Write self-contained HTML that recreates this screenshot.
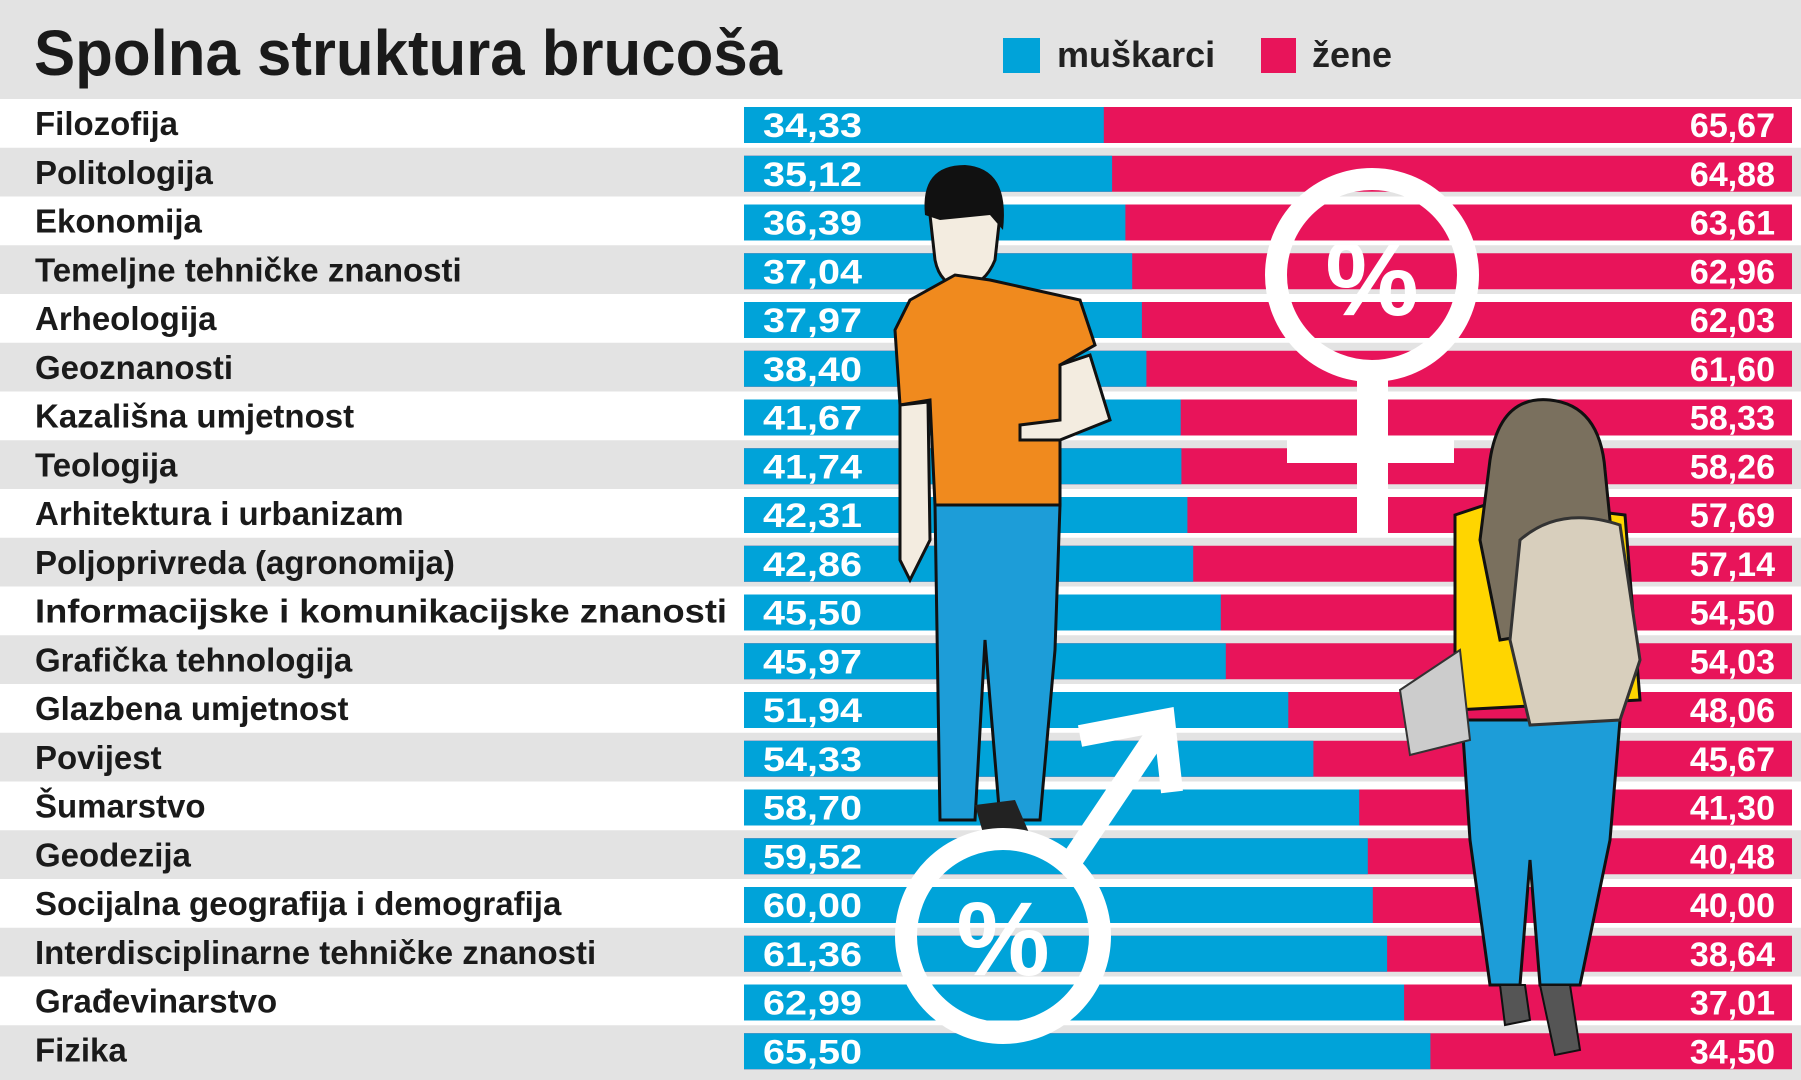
<!DOCTYPE html>
<html><head><meta charset="utf-8"><style>
html,body{margin:0;padding:0;background:#fff}
svg{display:block}
text{font-family:"Liberation Sans",sans-serif;font-weight:bold}
.l{font-size:33px;fill:#1a1a1a}
.v{font-size:34px;fill:#fff}
</style></head><body>
<svg width="1801" height="1080" viewBox="0 0 1801 1080" xmlns="http://www.w3.org/2000/svg">
<rect width="1801" height="1080" fill="#fff"/>
<rect width="1801" height="99" fill="#e3e3e3"/>
<text x="34" y="75" font-size="64" fill="#1a1a1a" textLength="748" lengthAdjust="spacingAndGlyphs">Spolna struktura brucoša</text>
<rect x="1003" y="38" width="37" height="35" fill="#00a3d9"/>
<text x="1057" y="67" font-size="36" fill="#222">muškarci</text>
<rect x="1261" y="38" width="35" height="35" fill="#e8145a"/>
<text x="1312" y="67" font-size="36" fill="#222">žene</text>

<rect x="0" y="147.75" width="1801" height="48.75" fill="#e3e3e3"/>
<rect x="0" y="245.25" width="1801" height="48.75" fill="#e3e3e3"/>
<rect x="0" y="342.75" width="1801" height="48.75" fill="#e3e3e3"/>
<rect x="0" y="440.25" width="1801" height="48.75" fill="#e3e3e3"/>
<rect x="0" y="537.75" width="1801" height="48.75" fill="#e3e3e3"/>
<rect x="0" y="635.25" width="1801" height="48.75" fill="#e3e3e3"/>
<rect x="0" y="732.75" width="1801" height="48.75" fill="#e3e3e3"/>
<rect x="0" y="830.25" width="1801" height="48.75" fill="#e3e3e3"/>
<rect x="0" y="927.75" width="1801" height="48.75" fill="#e3e3e3"/>
<rect x="0" y="1025.25" width="1801" height="54.75" fill="#e3e3e3"/>

<g transform="translate(0,99)"><rect x="744" y="8" width="1048" height="36" fill="#e8145a"/><rect x="744" y="8" width="359.8" height="36" fill="#00a3d9"/><text class="l" x="35" y="36">Filozofija</text><text class="v" x="763" y="38" textLength="99" lengthAdjust="spacingAndGlyphs">34,33</text><text class="v" x="1775" y="38" text-anchor="end">65,67</text></g>
<g transform="translate(0,147.75)"><rect x="744" y="8" width="1048" height="36" fill="#e8145a"/><rect x="744" y="8" width="368.1" height="36" fill="#00a3d9"/><text class="l" x="35" y="36">Politologija</text><text class="v" x="763" y="38" textLength="99" lengthAdjust="spacingAndGlyphs">35,12</text><text class="v" x="1775" y="38" text-anchor="end">64,88</text></g>
<g transform="translate(0,196.5)"><rect x="744" y="8" width="1048" height="36" fill="#e8145a"/><rect x="744" y="8" width="381.4" height="36" fill="#00a3d9"/><text class="l" x="35" y="36">Ekonomija</text><text class="v" x="763" y="38" textLength="99" lengthAdjust="spacingAndGlyphs">36,39</text><text class="v" x="1775" y="38" text-anchor="end">63,61</text></g>
<g transform="translate(0,245.25)"><rect x="744" y="8" width="1048" height="36" fill="#e8145a"/><rect x="744" y="8" width="388.2" height="36" fill="#00a3d9"/><text class="l" x="35" y="36">Temeljne tehničke znanosti</text><text class="v" x="763" y="38" textLength="99" lengthAdjust="spacingAndGlyphs">37,04</text><text class="v" x="1775" y="38" text-anchor="end">62,96</text></g>
<g transform="translate(0,294)"><rect x="744" y="8" width="1048" height="36" fill="#e8145a"/><rect x="744" y="8" width="397.9" height="36" fill="#00a3d9"/><text class="l" x="35" y="36">Arheologija</text><text class="v" x="763" y="38" textLength="99" lengthAdjust="spacingAndGlyphs">37,97</text><text class="v" x="1775" y="38" text-anchor="end">62,03</text></g>
<g transform="translate(0,342.75)"><rect x="744" y="8" width="1048" height="36" fill="#e8145a"/><rect x="744" y="8" width="402.4" height="36" fill="#00a3d9"/><text class="l" x="35" y="36">Geoznanosti</text><text class="v" x="763" y="38" textLength="99" lengthAdjust="spacingAndGlyphs">38,40</text><text class="v" x="1775" y="38" text-anchor="end">61,60</text></g>
<g transform="translate(0,391.5)"><rect x="744" y="8" width="1048" height="36" fill="#e8145a"/><rect x="744" y="8" width="436.7" height="36" fill="#00a3d9"/><text class="l" x="35" y="36">Kazališna umjetnost</text><text class="v" x="763" y="38" textLength="99" lengthAdjust="spacingAndGlyphs">41,67</text><text class="v" x="1775" y="38" text-anchor="end">58,33</text></g>
<g transform="translate(0,440.25)"><rect x="744" y="8" width="1048" height="36" fill="#e8145a"/><rect x="744" y="8" width="437.4" height="36" fill="#00a3d9"/><text class="l" x="35" y="36">Teologija</text><text class="v" x="763" y="38" textLength="99" lengthAdjust="spacingAndGlyphs">41,74</text><text class="v" x="1775" y="38" text-anchor="end">58,26</text></g>
<g transform="translate(0,489)"><rect x="744" y="8" width="1048" height="36" fill="#e8145a"/><rect x="744" y="8" width="443.4" height="36" fill="#00a3d9"/><text class="l" x="35" y="36">Arhitektura i urbanizam</text><text class="v" x="763" y="38" textLength="99" lengthAdjust="spacingAndGlyphs">42,31</text><text class="v" x="1775" y="38" text-anchor="end">57,69</text></g>
<g transform="translate(0,537.75)"><rect x="744" y="8" width="1048" height="36" fill="#e8145a"/><rect x="744" y="8" width="449.2" height="36" fill="#00a3d9"/><text class="l" x="35" y="36">Poljoprivreda (agronomija)</text><text class="v" x="763" y="38" textLength="99" lengthAdjust="spacingAndGlyphs">42,86</text><text class="v" x="1775" y="38" text-anchor="end">57,14</text></g>
<g transform="translate(0,586.5)"><rect x="744" y="8" width="1048" height="36" fill="#e8145a"/><rect x="744" y="8" width="476.8" height="36" fill="#00a3d9"/><text class="l" x="35" y="36" textLength="692" lengthAdjust="spacingAndGlyphs">Informacijske i komunikacijske znanosti</text><text class="v" x="763" y="38" textLength="99" lengthAdjust="spacingAndGlyphs">45,50</text><text class="v" x="1775" y="38" text-anchor="end">54,50</text></g>
<g transform="translate(0,635.25)"><rect x="744" y="8" width="1048" height="36" fill="#e8145a"/><rect x="744" y="8" width="481.8" height="36" fill="#00a3d9"/><text class="l" x="35" y="36">Grafička tehnologija</text><text class="v" x="763" y="38" textLength="99" lengthAdjust="spacingAndGlyphs">45,97</text><text class="v" x="1775" y="38" text-anchor="end">54,03</text></g>
<g transform="translate(0,684)"><rect x="744" y="8" width="1048" height="36" fill="#e8145a"/><rect x="744" y="8" width="544.3" height="36" fill="#00a3d9"/><text class="l" x="35" y="36">Glazbena umjetnost</text><text class="v" x="763" y="38" textLength="99" lengthAdjust="spacingAndGlyphs">51,94</text><text class="v" x="1775" y="38" text-anchor="end">48,06</text></g>
<g transform="translate(0,732.75)"><rect x="744" y="8" width="1048" height="36" fill="#e8145a"/><rect x="744" y="8" width="569.4" height="36" fill="#00a3d9"/><text class="l" x="35" y="36">Povijest</text><text class="v" x="763" y="38" textLength="99" lengthAdjust="spacingAndGlyphs">54,33</text><text class="v" x="1775" y="38" text-anchor="end">45,67</text></g>
<g transform="translate(0,781.5)"><rect x="744" y="8" width="1048" height="36" fill="#e8145a"/><rect x="744" y="8" width="615.2" height="36" fill="#00a3d9"/><text class="l" x="35" y="36">Šumarstvo</text><text class="v" x="763" y="38" textLength="99" lengthAdjust="spacingAndGlyphs">58,70</text><text class="v" x="1775" y="38" text-anchor="end">41,30</text></g>
<g transform="translate(0,830.25)"><rect x="744" y="8" width="1048" height="36" fill="#e8145a"/><rect x="744" y="8" width="623.8" height="36" fill="#00a3d9"/><text class="l" x="35" y="36">Geodezija</text><text class="v" x="763" y="38" textLength="99" lengthAdjust="spacingAndGlyphs">59,52</text><text class="v" x="1775" y="38" text-anchor="end">40,48</text></g>
<g transform="translate(0,879)"><rect x="744" y="8" width="1048" height="36" fill="#e8145a"/><rect x="744" y="8" width="628.8" height="36" fill="#00a3d9"/><text class="l" x="35" y="36">Socijalna geografija i demografija</text><text class="v" x="763" y="38" textLength="99" lengthAdjust="spacingAndGlyphs">60,00</text><text class="v" x="1775" y="38" text-anchor="end">40,00</text></g>
<g transform="translate(0,927.75)"><rect x="744" y="8" width="1048" height="36" fill="#e8145a"/><rect x="744" y="8" width="643.1" height="36" fill="#00a3d9"/><text class="l" x="35" y="36">Interdisciplinarne tehničke znanosti</text><text class="v" x="763" y="38" textLength="99" lengthAdjust="spacingAndGlyphs">61,36</text><text class="v" x="1775" y="38" text-anchor="end">38,64</text></g>
<g transform="translate(0,976.5)"><rect x="744" y="8" width="1048" height="36" fill="#e8145a"/><rect x="744" y="8" width="660.1" height="36" fill="#00a3d9"/><text class="l" x="35" y="36">Građevinarstvo</text><text class="v" x="763" y="38" textLength="99" lengthAdjust="spacingAndGlyphs">62,99</text><text class="v" x="1775" y="38" text-anchor="end">37,01</text></g>
<g transform="translate(0,1025.25)"><rect x="744" y="8" width="1048" height="36" fill="#e8145a"/><rect x="744" y="8" width="686.4" height="36" fill="#00a3d9"/><text class="l" x="35" y="36">Fizika</text><text class="v" x="763" y="38" textLength="99" lengthAdjust="spacingAndGlyphs">65,50</text><text class="v" x="1775" y="38" text-anchor="end">34,50</text></g>

<!-- male figure -->
<path d="M930 215 Q925 170 965 168 Q1005 170 1000 215 L995 260 Q985 285 962 288 Q940 285 935 260 Z" fill="#f3ece0" stroke="#111" stroke-width="3"/>
<path d="M925 215 Q920 165 965 165 Q1010 168 1003 230 L990 215 L940 220 Z" fill="#111"/>
<path d="M910 300 L955 275 L990 280 L1080 300 L1095 345 L1060 365 L1060 505 L935 505 L930 400 L900 405 L895 330 Z" fill="#f08a1e" stroke="#111" stroke-width="3"/>
<path d="M1060 365 L1090 355 L1110 420 L1060 440 L1020 440 L1020 425 L1060 420 Z" fill="#f3ece0" stroke="#111" stroke-width="3"/>
<path d="M900 405 L928 402 L930 540 L910 580 L900 560 Z" fill="#f3ece0" stroke="#111" stroke-width="3"/>
<path d="M935 505 L1060 505 L1055 650 L1040 820 L1000 820 L985 640 L975 820 L940 820 Z" fill="#1d9dd8" stroke="#111" stroke-width="3"/>
<path d="M975 805 L1015 800 L1030 835 L985 840 Z" fill="#222"/>
<!-- female symbol -->
<circle cx="1372" cy="275" r="96" fill="none" stroke="#fff" stroke-width="22"/>
<text x="1372" y="315" font-size="105" fill="#fff" text-anchor="middle">%</text>
<rect x="1357" y="380" width="31" height="157" fill="#fff"/>
<rect x="1287" y="438" width="167" height="25" fill="#fff"/>
<!-- male symbol -->
<circle cx="1003" cy="936" r="97" fill="none" stroke="#fff" stroke-width="22"/>
<text x="1003" y="975" font-size="105" fill="#fff" text-anchor="middle">%</text>
<line x1="1068" y1="866" x2="1158" y2="732" stroke="#fff" stroke-width="22"/>
<polyline points="1080,736 1164,720 1172,792" fill="none" stroke="#fff" stroke-width="22" stroke-linejoin="miter"/>
<!-- female figure -->
<path d="M1455 515 L1500 500 L1625 515 L1640 700 L1455 710 Z" fill="#ffd500" stroke="#111" stroke-width="3"/>
<path d="M1462 720 L1620 720 L1610 840 L1580 985 L1540 985 L1530 860 L1520 985 L1490 985 L1470 840 Z" fill="#1d9dd8" stroke="#111" stroke-width="3"/>
<path d="M1490 460 Q1500 395 1550 400 Q1600 405 1605 470 L1620 620 L1500 640 L1480 540 Z" fill="#7a705e" stroke="#111" stroke-width="3"/>
<path d="M1520 540 Q1560 505 1620 525 L1640 660 L1620 720 L1530 725 L1510 640 Z" fill="#d8cfbd" stroke="#333" stroke-width="3"/>
<path d="M1400 690 L1460 650 L1470 740 L1410 755 Z" fill="#ccc" stroke="#333" stroke-width="2"/>
<path d="M1540 985 L1570 985 L1580 1050 L1555 1055 Z M1500 985 L1525 985 L1530 1020 L1505 1025 Z" fill="#555" stroke="#111" stroke-width="2"/>
</svg>
</body></html>
